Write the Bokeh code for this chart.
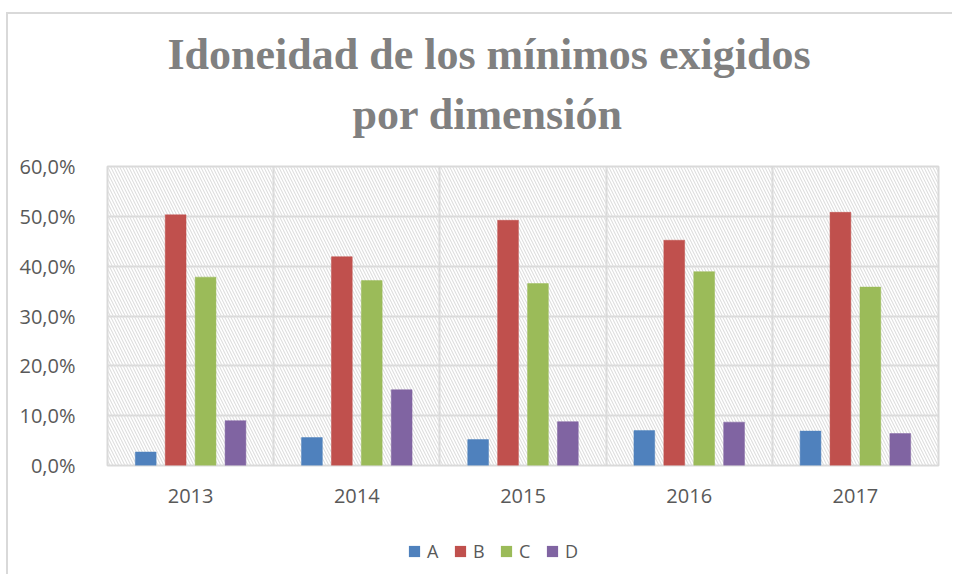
from bokeh.plotting import figure
from bokeh.layouts import column
from bokeh.models import (ColumnDataSource, FixedTicker, Range1d, Title, Legend,
                          LegendItem, BoxAnnotation)
from bokeh.transform import dodge
from bokeh.embed import file_html
from bokeh.resources import INLINE

# ---- data ----
years = ["2013", "2014", "2015", "2016", "2017"]
series_names = ["A", "B", "C", "D"]
A = [2.7, 5.6, 5.2, 7.0, 6.9]
B = [50.3, 41.9, 49.2, 45.2, 50.8]
C = [37.8, 37.1, 36.5, 38.9, 35.8]
D = [9.0, 15.2, 8.8, 8.7, 6.4]
y_ticks = [0, 10, 20, 30, 40, 50, 60]

colors = ["#4F81BD", "#C0504D", "#9BBB59", "#8064A2"]
offsets = [-0.27, -0.09, 0.09, 0.27]
grid_col = "#d9d9d9"
text_col = "#595959"

xpos = [i + 0.5 for i in range(len(years))]
series_vals = [A, B, C, D]

p = figure(width=944, height=520, output_backend="svg", toolbar_location=None,
           x_range=Range1d(0, len(years)), y_range=Range1d(0, 60),
           min_border_left=99, min_border_right=14, min_border_top=152,
           min_border_bottom=69)

# hatched plot background
p.add_layout(BoxAnnotation(fill_alpha=0, line_alpha=0, hatch_pattern="\\",
                           hatch_color="#dedede", hatch_scale=6, hatch_weight=1.1,
                           level="underlay"))

for name, vals, col, off in zip(series_names, series_vals, colors, offsets):
    src = ColumnDataSource(dict(x=xpos, top=vals))
    p.vbar(x=dodge("x", off), top="top", width=0.125, source=src,
           fill_color=col, line_color=col, line_width=0.5)

# axes
p.xaxis.ticker = FixedTicker(ticks=xpos)
p.xaxis.major_label_overrides = {x: y for x, y in zip(xpos, years)}
p.yaxis.ticker = FixedTicker(ticks=y_ticks)
p.yaxis.major_label_overrides = {t: f"{t},0%" for t in y_ticks}
for ax in (p.xaxis, p.yaxis):
    ax.axis_line_color = None
    ax.major_tick_line_color = None
    ax.minor_tick_line_color = None
    ax.major_label_text_font = "Open Sans"
    ax.major_label_text_font_size = "20px"
    ax.major_label_text_color = text_col
p.yaxis.major_label_standoff = 26
p.xaxis.major_label_standoff = 17

# grid
p.xgrid.ticker = FixedTicker(ticks=list(range(len(years) + 1)))
p.ygrid.ticker = FixedTicker(ticks=y_ticks)
for g in (p.xgrid, p.ygrid):
    g.grid_line_color = grid_col
    g.grid_line_width = 2
p.outline_line_color = grid_col
p.outline_line_width = 2

# titles
p.add_layout(Title(text="por dimensión", align="left", offset=245,
                   text_font="Liberation Serif", text_font_style="bold",
                   text_font_size="44px", text_color="#808080", standoff=56), "above")
p.add_layout(Title(text="Idoneidad de los mínimos exigidos", align="left", offset=60,
                   text_font="Liberation Serif", text_font_style="bold",
                   text_font_size="44px", text_color="#808080", standoff=-39), "above")

# legend strip (hidden renderers; only the legend is shown)
lf = figure(width=944, height=40, output_backend="svg", toolbar_location=None,
            x_range=Range1d(0, len(years)), y_range=Range1d(1000, 1001),
            min_border_left=99, min_border_right=14, min_border_top=0,
            min_border_bottom=6, outline_line_color=None)
lf.axis.visible = False
lf.grid.visible = False
items = []
for name, vals, col in zip(series_names, series_vals, colors):
    r = lf.vbar(x=xpos, top=vals, width=0.1, fill_color=col, line_color=None)
    r.visible = False
    items.append(LegendItem(label=name, renderers=[r]))
legend = Legend(items=items, orientation="horizontal", location=(300, 5),
                glyph_width=14, glyph_height=14, label_standoff=6, spacing=14,
                label_width=12, label_height=14,
                padding=0, margin=0, border_line_color=None, background_fill_alpha=0,
                label_text_font="Open Sans", label_text_font_size="18px",
                label_text_color=text_col)
lf.add_layout(legend, "center")

layout = column(p, lf, spacing=0,
                styles={"border-top": "2px solid #d9d9d9",
                        "border-left": "2px solid #d9d9d9",
                        "margin-top": "12px", "margin-left": "6px"})

open("out.html", "w").write(file_html(layout, INLINE))
